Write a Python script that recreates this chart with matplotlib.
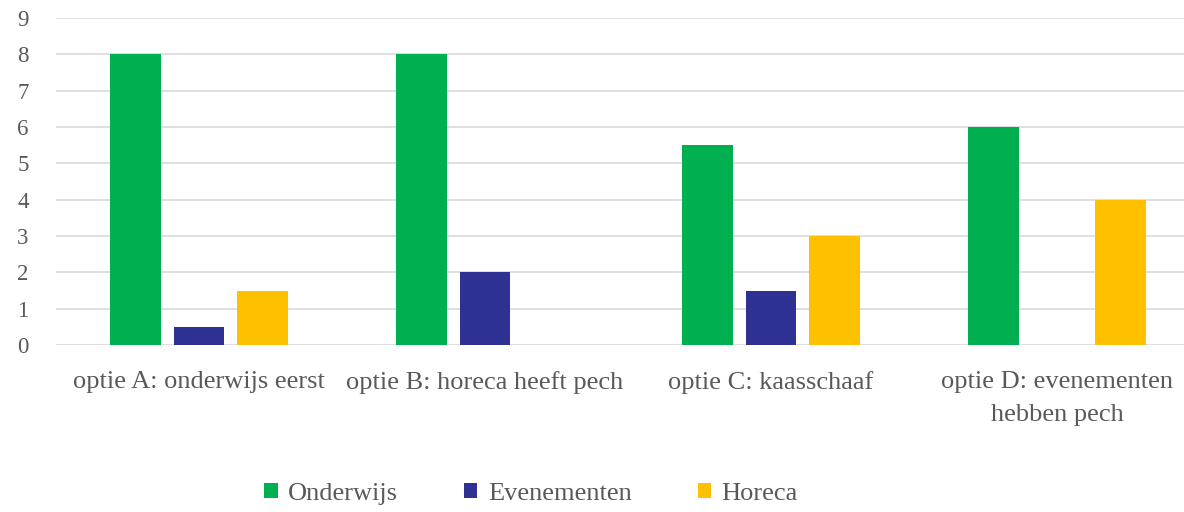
import numpy as np
from matplotlib import pyplot as plt

categories = ["optie A: onderwijs eerst",
              "optie B: horeca heeft pech",
              "optie C: kaasschaaf",
              "optie D: evenementen\nhebben pech"]
series_names = ["Onderwijs", "Evenementen", "Horeca"]
onderwijs = [8, 8, 5.5, 6]
evenementen = [0.5, 2, 1.5, 0]
horeca = [1.5, 0, 3, 4]

colors = ["#00AF50", "#2E3192", "#FFC000"]
TEXT = "#595959"

plt.rcParams['font.family'] = ['Liberation Serif', 'DejaVu Serif']

fig = plt.figure(figsize=(11.84, 5.12), dpi=100)
ax = fig.add_axes([56 / 1184, 1 - 345 / 512, 1 - 56 / 1184, (345 - 18) / 512])

x = np.arange(len(categories))
step = 0.222
width = 0.175
for i, (vals, name) in enumerate(zip([onderwijs, evenementen, horeca], series_names)):
    ax.bar(x + (i - 1) * step, vals, width, color=colors[i], label=name, zorder=3)

ax.set_xlim(-0.5, 3.444)
ax.set_ylim(0, 9)
ax.set_yticks(range(10))
ax.set_xticks(x)
ax.set_xticklabels(categories, fontsize=19, color=TEXT, linespacing=1.65)
ax.tick_params(axis='y', labelsize=16.5, labelcolor=TEXT, length=0)
ax.tick_params(axis='x', length=0, pad=19)
for lbl in ax.get_yticklabels():
    lbl.set_horizontalalignment('left')
ax.tick_params(axis='y', pad=28)

ax.grid(axis='y', color='#D9D9D9', linewidth=1.2, zorder=0)
for s in ax.spines.values():
    s.set_visible(False)

fig.legend(loc='center', bbox_to_anchor=(531 / 1184, 1 - 494 / 512), ncol=3,
           frameon=False, fontsize=19, labelcolor=TEXT, handlelength=0.5,
           handleheight=0.5, handletextpad=0.4, columnspacing=2.5)

fig.savefig("out.png", dpi=100)
